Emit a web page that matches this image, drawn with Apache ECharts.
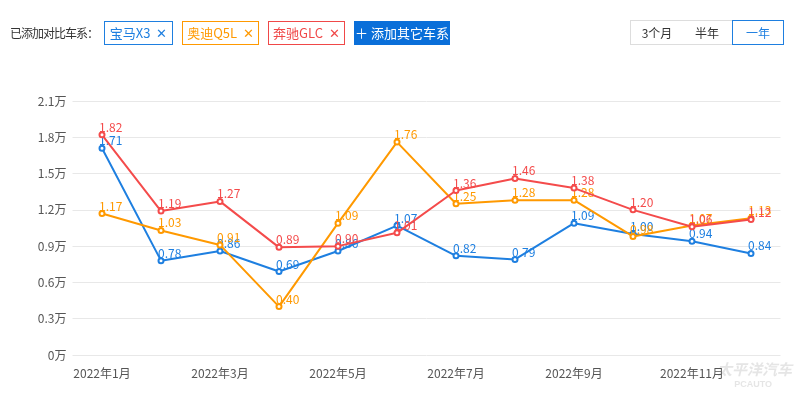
<!DOCTYPE html>
<html><head><meta charset="utf-8">
<script src="https://cdn.jsdelivr.net/npm/echarts@6/dist/echarts.min.js"></script>
<style>
html,body{margin:0;padding:0;background:#fff;width:800px;height:399px;overflow:hidden;font-family:"Noto Sans CJK SC","Noto Sans",sans-serif;}
#chart{position:absolute;left:0;top:0;width:800px;height:399px;}
.hd{position:absolute;font-size:12px;line-height:22px;white-space:nowrap;letter-spacing:-1px;}
.tag{position:absolute;top:21px;height:22px;border:1px solid;font-size:13px;line-height:22px;text-align:center;box-sizing:content-box;background:#fff;}
.btn{position:absolute;top:20px;height:23px;border:1px solid #ddd;font-size:12px;line-height:23px;text-align:center;color:#333;background:#fff;}
</style></head>
<body>
<div id="chart"></div>
<div class="hd" style="left:10px;top:22px;color:#333;">已添加对比车系：</div>
<div class="tag" style="left:104px;width:67px;border-color:#1e7fe0;color:#1e7fe0;">宝马X3 &nbsp;✕</div>
<div class="tag" style="left:182px;width:75px;border-color:#f90;color:#f90;">奥迪Q5L &nbsp;✕</div>
<div class="tag" style="left:268px;width:75px;border-color:#f04848;color:#f04848;">奔驰GLC &nbsp;✕</div>
<div class="tag" style="left:354px;width:94px;border-color:#0a6fd9;background:#0a6fd9;color:#fff;">＋ 添加其它车系</div>
<div class="btn" style="left:630px;width:52px;">3个月</div>
<div class="btn" style="left:682px;width:50px;border-left:none;">半年</div>
<div class="btn" style="left:732px;width:50px;border-color:#1e7fe0;color:#1e7fe0;">一年</div>
<script>
var categories = ['2022年1月','2022年2月','2022年3月','2022年4月','2022年5月','2022年6月','2022年7月','2022年8月','2022年9月','2022年10月','2022年11月','2022年12月'];
var bmwX3 = [1.71,0.78,0.86,0.69,0.86,1.07,0.82,0.79,1.09,1.00,0.94,0.84];
var audiQ5L = [1.17,1.03,0.91,0.40,1.09,1.76,1.25,1.28,1.28,0.98,1.07,1.13];
var benzGLC = [1.82,1.19,1.27,0.89,0.90,1.01,1.36,1.46,1.38,1.20,1.06,1.12];
var seriesNames = ['宝马X3','奥迪Q5L','奔驰GLC'];
var colors = ['#1e7fe0','#f90','#f44b4b'];

function mk(name, data, color, z){
  return {
    name:name, type:'line', data:data, z:z,
    symbol:'emptyCircle', symbolSize:5,
    lineStyle:{width:2,color:color},
    itemStyle:{color:color},
    label:{show:true, position:'top', distance:-2, align:'left', offset:[-3,0],
      color:color, fontSize:12, fontFamily:'"Noto Sans CJK SC",sans-serif',
      formatter:function(p){return p.value.toFixed(2);}}
  };
}
var chart = echarts.init(document.getElementById('chart'));
chart.setOption({
  animation:false,
  grid:{left:72.5, right:19.5, top:101, bottom:44},
  xAxis:{type:'category', data:categories, boundaryGap:true,
    axisLine:{show:false}, axisTick:{show:false},
    axisLabel:{interval:1, color:'#555', fontSize:12, margin:12, fontFamily:'"Noto Sans CJK SC",sans-serif'}},
  yAxis:{type:'value', min:0, max:2.1, interval:0.3,
    axisLine:{show:false}, axisTick:{show:false},
    splitLine:{lineStyle:{color:'#e8e8e8', width:1}},
    axisLabel:{color:'#555', fontSize:12, margin:6, fontFamily:'"Noto Sans CJK SC",sans-serif',
      formatter:function(v){return (Math.round(v*10)/10)+'万';}}},
  graphic:[
    {type:'text', right:8, bottom:22, style:{text:'太平洋汽车', fill:'rgba(180,180,180,0.35)', font:'italic bold 15px "Noto Sans CJK SC",sans-serif'}},
    {type:'text', right:28, bottom:10, style:{text:'PCAUTO', fill:'rgba(180,180,180,0.35)', font:'bold 9px sans-serif'}}
  ],
  series:[mk(seriesNames[0], bmwX3, colors[0], 2), mk(seriesNames[1], audiQ5L, colors[1], 3), mk(seriesNames[2], benzGLC, colors[2], 4)]
});
</script>
</body></html>
